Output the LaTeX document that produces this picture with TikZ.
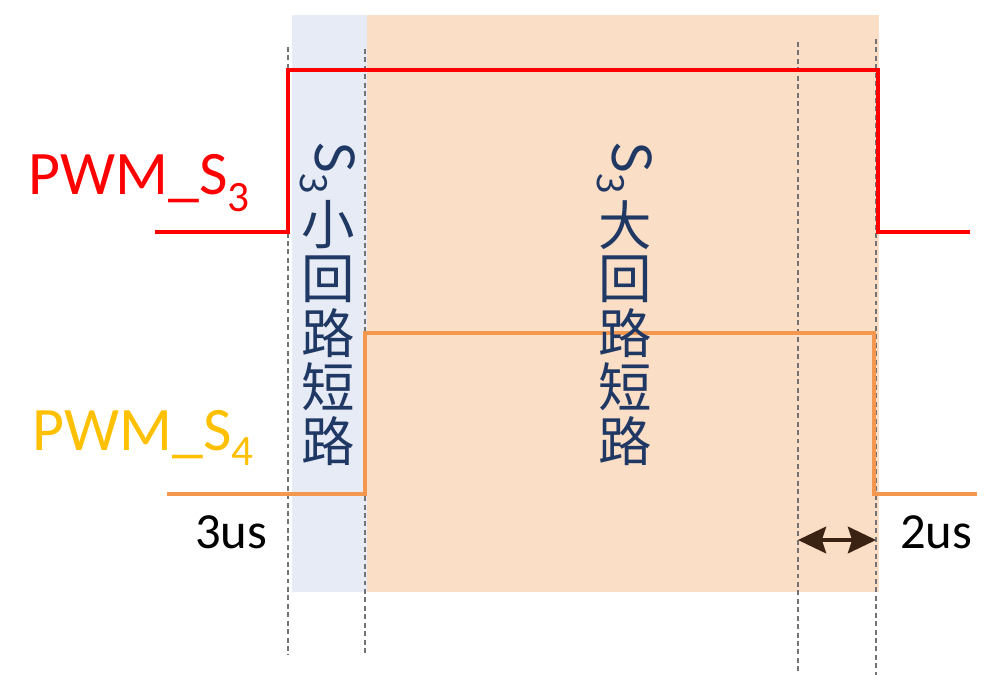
\documentclass[tikz,border=0pt]{standalone}
\usepackage{fontspec}
\setmainfont{Carlito}
\newfontfamily\cjk{Noto Sans CJK SC}
\usepackage{tikz}
\usetikzlibrary{calc,arrows.meta}
\usepackage{xcolor}
\definecolor{shortblue}{RGB}{230,235,245}
\definecolor{shortpeach}{RGB}{251,222,198}
\definecolor{loopnavy}{RGB}{31,56,100}
\definecolor{sfourline}{RGB}{244,152,80}
\definecolor{sfourtext}{RGB}{255,192,0}
\definecolor{gapbrown}{RGB}{59,35,20}
\newcommand{\bigfont}{\fontsize{44}{48}\selectfont}
\newcommand{\usfont}{\fontsize{36}{40}\selectfont}
\newcommand{\loopfont}{\cjk\fontsize{38}{38}\selectfont}
\newcommand{\looplabel}[3]{%
  \node[loopchar,rotate=-90] (#1-s) at (#2,168) {S\textsubscript{3}};
  \foreach \ch [count=\k] in {#3}
    \node[loopchar] (#1-\k) at (#2,{171+54*\k}) {\ch};}

\begin{document}
\begin{tikzpicture}[x=0.025cm,y=-0.025cm,
    guide/.style={black!55,line width=0.9pt,dash pattern=on 3.5pt off 2.5pt},
    sthree/.style={red,line width=3.4pt,line join=miter},
    sfour/.style={sfourline,line width=2.6pt,line join=miter},
    loopchar/.style={loopnavy,font=\loopfont,inner sep=0pt},
    plain/.style={anchor=base west,inner sep=0pt}]
\useasboundingbox (0,0) rectangle (988,675);

\fill[shortblue] (292,15) rectangle (367,592);
\fill[shortpeach] (367,15) rectangle (879,592);

\foreach \x/\top/\bot in {288/47/655,365/49/655,798/42/675,876/39/675}
    \draw[guide] (\x,\top) -- (\x,\bot);

\draw[sthree] (155,232) -- (288,232) -- (288,70) -- (878,70) -- (878,232) -- (970,232);
\draw[sfour] (167,494) -- (365,494) -- (365,333) -- (874,333) -- (874,494) -- (977,494);

\node[plain,red,font=\bigfont] (pwm3) at (28,195) {PWM\_S\textsubscript{3}};
\node[plain,sfourtext,font=\bigfont] (pwm4) at (32,450) {PWM\_S\textsubscript{4}};

\looplabel{small}{328}{小,回,路,短,路}
\looplabel{large}{625}{大,回,路,短,路}

\coordinate (gapL) at (798,540);
\coordinate (gapR) at (876,540);
\draw[gapbrown,line width=2.2pt,{Stealth[length=20pt,width=19pt,inset=3pt]}-{Stealth[length=20pt,width=19pt,inset=3pt]}] (gapL) -- (gapR);

\node[plain,font=\usfont] (dead3) at (195,548) {3us};
\node[plain,font=\usfont] (dead2) at (900,548) {2us};
\end{tikzpicture}
\end{document}
